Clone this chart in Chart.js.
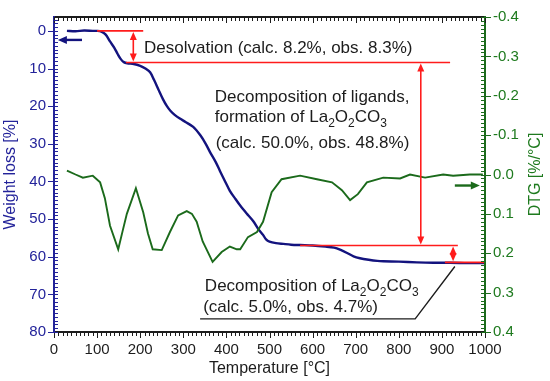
<!DOCTYPE html>
<html>
<head>
<meta charset="utf-8">
<script src="https://cdn.jsdelivr.net/npm/chart.js@4.4.1/dist/chart.umd.min.js"></script>
<style>
  html, body { margin: 0; padding: 0; background: #fff; }
  #wrap { width: 550px; height: 381px; }
</style>
</head>
<body>
<div id="wrap"><canvas id="tga"></canvas></div>
<script>
// TG curve (weight loss, %)
const tgaTemp = [30, 50, 70, 90, 100, 110, 120, 130, 140, 148, 155, 162, 170, 185, 200, 212, 223, 232, 242, 253,
  262, 270, 280, 292, 305, 323, 340, 352, 362, 375, 385, 397, 408, 420, 432, 447, 462, 475, 485, 492,
  500, 515, 532, 550, 571, 600, 630, 650, 665, 680, 695, 710, 730, 750, 764, 800, 842, 880, 920, 960, 1000];
const tgaLoss = [0, 0.1, -0.1, 0, 0, 0.2, 1.0, 2.8, 4.5, 6.2, 7.5, 8.3, 8.6, 8.8, 9.3, 10.0, 11.0, 13.0, 15.5, 18.2,
  20.0, 21.2, 22.3, 23.3, 24.2, 25.5, 27.8, 30.0, 32.2, 34.8, 37.2, 40.0, 42.5, 44.5, 46.4, 48.5, 50.5, 52.8, 54.2, 55.4,
  56.0, 56.4, 56.6, 56.8, 56.9, 57.0, 57.3, 57.6, 58.2, 59.0, 59.9, 60.4, 60.8, 61.1, 61.2, 61.3, 61.5, 61.6, 61.6, 61.7, 61.7];

// DTG curve (%/°C)
const dtgTemp = [30, 50, 67, 90, 107, 118, 130, 149, 160, 169, 190, 207, 218, 229, 250, 269, 288, 308, 320, 331,
  345, 368, 389, 408, 424, 432, 450, 471, 485, 505, 528, 571, 610, 645, 668, 687, 705, 726, 764, 803,
  826, 861, 903, 926, 965, 995];
const dtgRate = [-0.01, 0.0, 0.008, 0.003, 0.02, 0.06, 0.13, 0.19, 0.14, 0.10, 0.035, 0.096, 0.15, 0.19, 0.192, 0.146, 0.104, 0.093, 0.10, 0.12,
  0.17, 0.222, 0.197, 0.183, 0.19, 0.19, 0.159, 0.146, 0.12, 0.045, 0.012, 0.003, 0.012, 0.02, 0.04, 0.065, 0.05, 0.02, 0.008, 0.01,
  0.0, 0.008, 0.0, 0.003, 0.0, 0.0];

const tempTicks = [0, 100, 200, 300, 400, 500, 600, 700, 800, 900, 1000];
const lossTicks = [0, 10, 20, 30, 40, 50, 60, 70, 80];
const dtgTicks = [-0.4, -0.3, -0.2, -0.1, 0.0, 0.1, 0.2, 0.3, 0.4];

// step markers: [T1, loss, T2] horizontals and [T, lossFrom, lossTo] arrows
const stepLines = [[100, 0, 207], [167, 8.4, 919], [571, 57.0, 937], [907, 61.5, 1000]];
const stepArrows = [[184, 0, 8.4], [851, 8.4, 57.0], [926, 57.0, 61.5]];
const leaderTemp = [339, 838, 930];
const leaderLoss = [76.5, 76.5, 62.6];

const FONT = '"Liberation Sans", Arial, sans-serif';
const BLUE = '#23239a';
const NAVY = '#13137e';
const GREEN = '#1e7a1e';
const DGREEN = '#1b6a1b';
const RED = '#ff1c1c';
const INK = '#1c1c1c';

function head(ctx, x, y, dx, dy, len, hw) {
  ctx.beginPath();
  ctx.moveTo(x, y);
  ctx.lineTo(x - dx * len - dy * hw, y - dy * len + dx * hw);
  ctx.lineTo(x - dx * len + dy * hw, y - dy * len - dx * hw);
  ctx.closePath();
  ctx.fill();
}

function rich(ctx, parts, x, y) {
  let cx = x;
  for (const [s, sub] of parts) {
    ctx.font = (sub ? '12px ' : '17px ') + FONT;
    ctx.fillText(s, cx, sub ? y + 5 : y);
    cx += ctx.measureText(s).width;
  }
}

const decor = {
  id: 'decor',
  afterDatasetsDraw(chart) {
    const { ctx, chartArea: a, scales: { x, y, y2 } } = chart;
    ctx.save();

    // red step markers
    ctx.strokeStyle = RED;
    ctx.fillStyle = RED;
    ctx.lineWidth = 1.6;
    stepLines.forEach(([t1, w, t2]) => {
      ctx.beginPath();
      ctx.moveTo(x.getPixelForValue(t1), y.getPixelForValue(w));
      ctx.lineTo(x.getPixelForValue(t2), y.getPixelForValue(w));
      ctx.stroke();
    });
    stepArrows.forEach(([t, w1, w2]) => {
      const px = x.getPixelForValue(t);
      const p1 = y.getPixelForValue(w1) + 1, p2 = y.getPixelForValue(w2) - 1;
      ctx.beginPath();
      ctx.moveTo(px, p1 + 4);
      ctx.lineTo(px, p2 - 4);
      ctx.stroke();
      head(ctx, px, p1, 0, -1, 8, 3.5);
      head(ctx, px, p2, 0, 1, 8, 3.5);
    });

    // black leader under the last label
    ctx.strokeStyle = INK;
    ctx.lineWidth = 1.4;
    ctx.beginPath();
    leaderTemp.forEach((t, i) => {
      const px = x.getPixelForValue(t), py = y.getPixelForValue(leaderLoss[i]);
      if (i === 0) ctx.moveTo(px, py); else ctx.lineTo(px, py);
    });
    ctx.stroke();

    // axis arrows
    ctx.lineWidth = 2.4;
    ctx.strokeStyle = NAVY; ctx.fillStyle = NAVY;
    let ay = y.getPixelForValue(2.4);
    ctx.beginPath();
    ctx.moveTo(x.getPixelForValue(65), ay);
    ctx.lineTo(x.getPixelForValue(20), ay);
    ctx.stroke();
    head(ctx, x.getPixelForValue(9), ay, -1, 0, 9, 4);
    ctx.strokeStyle = DGREEN; ctx.fillStyle = DGREEN;
    ay = y2.getPixelForValue(0.028);
    ctx.beginPath();
    ctx.moveTo(x.getPixelForValue(930), ay);
    ctx.lineTo(x.getPixelForValue(970), ay);
    ctx.stroke();
    head(ctx, x.getPixelForValue(988), ay, 1, 0, 9, 4);

    // frame
    ctx.lineWidth = 2;
    const seg = (c, x1, y1, x2, y2p) => {
      ctx.strokeStyle = c; ctx.beginPath(); ctx.moveTo(x1, y1); ctx.lineTo(x2, y2p); ctx.stroke();
    };
    seg(INK, a.left, a.top, a.right, a.top);
    seg(INK, a.left, a.bottom, a.right, a.bottom);
    seg(BLUE, a.left, a.top - 1, a.left, a.bottom + 1);
    seg(DGREEN, a.right, a.top - 1, a.right, a.bottom + 1);

    // tick marks
    ctx.lineWidth = 1;
    for (let k = 0; k <= 100; k++) {
      const px = Math.round(x.getPixelForValue(k * 10)) + 0.5;
      const major = k % 10 === 0;
      seg(INK, px, a.bottom, px, a.bottom + (major ? 6 : 4));
      seg(INK, px, a.top, px, a.top + (major ? 6 : 4));
    }
    for (let v = -3; v <= 80; v++) {
      const py = Math.round(y.getPixelForValue(v)) + 0.5;
      const major = v >= 0 && v % 10 === 0;
      seg(BLUE, major ? a.left - 6 : a.left, py, a.left + 4, py);
    }
    for (let k = -40; k <= 40; k++) {
      const py = Math.round(y2.getPixelForValue(k / 100)) + 0.5;
      const major = k % 10 === 0;
      seg(DGREEN, a.right - 4, py, major ? a.right + 6 : a.right, py);
    }

    // axis titles
    ctx.font = '16px ' + FONT;
    ctx.textAlign = 'center';
    ctx.textBaseline = 'alphabetic';
    ctx.fillStyle = INK;
    ctx.fillText('Temperature [°C]', (a.left + a.right) / 2, 373);
    ctx.textBaseline = 'middle';
    ctx.save();
    ctx.translate(11, (a.top + a.bottom) / 2);
    ctx.rotate(-Math.PI / 2);
    ctx.fillStyle = BLUE;
    ctx.fillText('Weight loss [%]', 0, 0);
    ctx.restore();
    ctx.save();
    ctx.translate(536, (a.top + a.bottom) / 2);
    ctx.rotate(-Math.PI / 2);
    ctx.fillStyle = GREEN;
    ctx.fillText('DTG [%/°C]', 0, 0);
    ctx.restore();

    // annotations
    ctx.textAlign = 'left';
    ctx.textBaseline = 'alphabetic';
    ctx.fillStyle = INK;
    const at = (t, w) => [x.getPixelForValue(t), y.getPixelForValue(w)];
    let p = at(209, 5.8);
    rich(ctx, [['Desolvation (calc. 8.2%, obs. 8.3%)']], p[0], p[1]);
    p = at(373, 19.0);
    rich(ctx, [['Decomposition of ligands,']], p[0], p[1]);
    p = at(373, 24.3);
    rich(ctx, [['formation of La'], ['2', 1], ['O'], ['2', 1], ['CO'], ['3', 1]], p[0], p[1]);
    p = at(375, 31.1);
    rich(ctx, [['(calc. 50.0%, obs. 48.8%)']], p[0], p[1]);
    p = at(350, 69.1);
    rich(ctx, [['Decomposition of La'], ['2', 1], ['O'], ['2', 1], ['CO'], ['3', 1]], p[0], p[1]);
    p = at(346, 74.7);
    rich(ctx, [['(calc. 5.0%, obs. 4.7%)']], p[0], p[1]);

    ctx.restore();
  }
};

const pts = (xs, ys) => xs.map((v, i) => ({ x: v, y: ys[i] }));

new Chart(document.getElementById('tga'), {
  type: 'line',
  data: {
    datasets: [
      { data: pts(dtgTemp, dtgRate), yAxisID: 'y2', borderColor: DGREEN, borderWidth: 1.9, pointRadius: 0, tension: 0 },
      { data: pts(tgaTemp, tgaLoss), yAxisID: 'y', borderColor: NAVY, borderWidth: 2.4, pointRadius: 0, tension: 0.3 },
    ],
  },
  options: {
    responsive: true,
    maintainAspectRatio: false,
    animation: false,
    layout: { padding: { top: 15, left: 0, right: 0, bottom: 0 } },
    plugins: { legend: { display: false }, tooltip: { enabled: false } },
    scales: {
      x: {
        type: 'linear', min: 0, max: 1000,
        afterBuildTicks: (s) => { s.ticks = tempTicks.map((v) => ({ value: v })); },
        afterFit: (s) => { s.height = 49; },
        grid: { display: false, drawTicks: false },
        border: { display: false },
        ticks: { color: INK, font: { family: FONT, size: 15 }, padding: 9, maxRotation: 0, autoSkip: false,
          callback: (v) => String(v) },
      },
      y: {
        position: 'left', reverse: true, min: -3.69, max: 80,
        afterBuildTicks: (s) => { s.ticks = lossTicks.map((v) => ({ value: v })); },
        afterFit: (s) => { s.width = 54; },
        grid: { display: false, drawTicks: false },
        border: { display: false },
        ticks: { color: BLUE, font: { family: FONT, size: 15 }, padding: 8, autoSkip: false },
      },
      y2: {
        position: 'right', reverse: true, min: -0.4, max: 0.4,
        afterBuildTicks: (s) => { s.ticks = dtgTicks.map((v) => ({ value: v })); },
        afterFit: (s) => { s.width = 65; },
        grid: { display: false, drawTicks: false },
        border: { display: false },
        ticks: { color: GREEN, font: { family: FONT, size: 15 }, padding: 8, autoSkip: false,
          callback: (v) => v.toFixed(1) },
      },
    },
  },
  plugins: [decor],
});
</script>
</body>
</html>
